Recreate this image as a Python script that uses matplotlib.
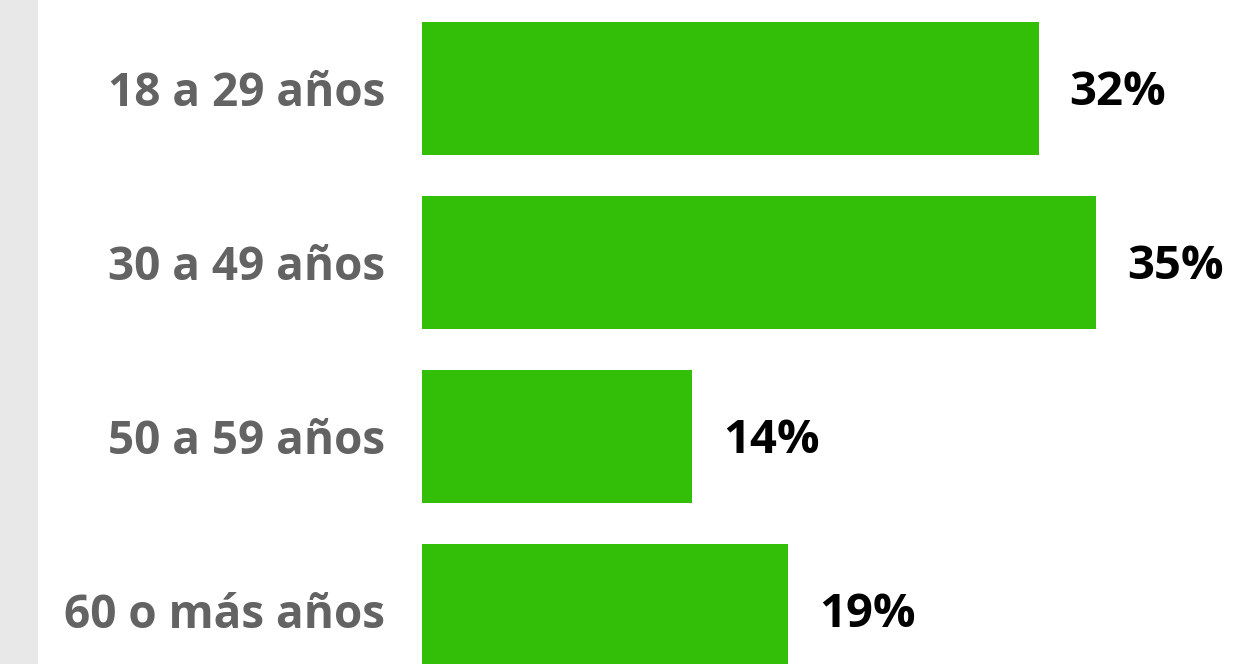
import matplotlib
matplotlib.use("Agg")
import matplotlib.pyplot as plt
from matplotlib.patches import Rectangle

# datos
grupos = ["18 a 29 años", "30 a 49 años", "50 a 59 años", "60 o más años"]
valores = [32, 35, 14, 19]
etiquetas = ["32%", "35%", "14%", "19%"]

plt.rcParams['font.family'] = ['Open Sans', 'DejaVu Sans']

W, H = 1237, 664
fig = plt.figure(figsize=(W / 100, H / 100), dpi=100)
fig.patch.set_facecolor("white")

# franja gris a la izquierda
fig.patches.append(Rectangle((0, 0), 38 / W, 1, transform=fig.transFigure,
                             facecolor="#e8e8e8", edgecolor="none", zorder=0))

ax = fig.add_axes([422 / W, 0, (W - 422) / W, 1])
ax.set_facecolor("none")
pos = list(range(len(grupos)))
ax.barh(pos, valores, height=0.764, color="#33bf08", edgecolor="none")
ax.set_xlim(0, 42.3)
ax.set_ylim(3.307, -0.509)
ax.axis("off")

for i, (g, v, e) in enumerate(zip(grupos, valores, etiquetas)):
    ax.annotate(g, xy=(0, i), xytext=(-37, -5), textcoords="offset pixels",
                ha="right", va="center", fontsize=33, fontweight="bold",
                color="#636363", annotation_clip=False)
    ax.annotate(e, xy=(v, i), xytext=(31, -4), textcoords="offset pixels",
                ha="left", va="center", fontsize=34, fontweight="bold",
                color="black", annotation_clip=False)

fig.savefig("out.png", dpi=100)
